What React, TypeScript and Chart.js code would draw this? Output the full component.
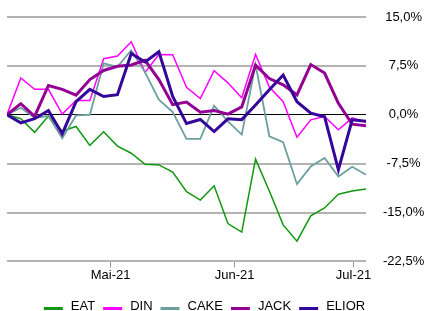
import React, { useEffect, useRef } from 'react';
import { Chart, registerables } from 'chart.js';

Chart.register(...registerables);

// observation number (roughly twice a week, early April to early July 2021)
const obsIndex = [0, 1, 2, 3, 4, 5, 6, 7, 8, 9, 10, 11, 12, 13, 14, 15, 16, 17, 18, 19, 20, 21, 22, 23, 24, 25, 26];

const seriesNames = ['EAT', 'DIN', 'CAKE', 'JACK', 'ELIOR'];
const seriesColors = ['#109810', '#ff00ff', '#6e9fa0', '#930093', '#35069a'];
const seriesWidths = [1.5, 1.5, 1.8, 3, 3];

// performance in %
const eat = [0, -0.6, -2.7, -0.2, -2.5, -1.8, -4.7, -2.6, -4.8, -5.9, -7.6, -7.7, -8.8, -11.8, -13.1, -10.9, -16.7, -18.0, -6.8, -11.7, -16.9, -19.4, -15.5, -14.3, -12.2, -11.7, -11.4];
const din = [0, 5.65, 3.9, 3.9, 0.1, 2.2, 2.2, 8.6, 9.0, 11.2, 6.5, 9.25, 9.2, 4.2, 2.5, 6.75, 4.9, 2.6, 9.25, 4.26, 2.0, -3.45, -0.78, -0.26, -2.3, -0.47, -1.14];
const cake = [0, 1.08, -0.46, -0.2, -3.6, -0.1, 0, 7.9, 7.35, 9.9, 6.5, 2.3, 0.4, -3.7, -3.7, 1.4, -1.0, -3.04, 7.7, -3.3, -4.2, -10.65, -7.93, -6.64, -9.47, -7.98, -9.2];
const jack = [0, 1.7, -0.26, 4.5, 3.9, 3.0, 5.4, 6.8, 7.45, 7.65, 8.35, 5.4, 1.55, 1.95, 0.4, 0.66, 0.1, 1.2, 7.6, 5.55, 4.6, 3.05, 7.7, 6.4, 1.75, -1.45, -1.7];
const elior = [0, -1.24, -0.6, 0.66, -2.93, 2.0, 3.9, 2.8, 3.09, 9.4, 8.1, 9.66, 2.8, -1.35, -0.72, -2.58, -0.62, -0.75, 1.5, 3.85, 6.1, 2.0, 0.25, -0.3, -8.44, -0.77, -1.0];

const seriesValues = [eat, din, cake, jack, elior];

const xTickValues = [7.5, 16.48, 25.1];
const xTickLabels = ['Mai-21', 'Jun-21', 'Jul-21'];

const yMin = -22.5;
const yMax = 15;
const yStep = 7.5;

const FONT_FAMILY = '"Liberation Sans", Arial, sans-serif';

const bottomLegend = {
  id: 'bottomLegend',
  afterDraw(chart: any) {
    const { ctx } = chart;
    ctx.save();
    ctx.font = `13px ${FONT_FAMILY}`;
    const boxW = 19;
    const boxH = 3;
    const gapText = 8;
    const gapItem = 8;
    const items = chart.data.datasets.map((ds: any) => ({
      text: ds.label,
      color: ds.borderColor,
      w: ctx.measureText(ds.label).width,
    }));
    const total =
      items.reduce((s: number, it: any) => s + boxW + gapText + it.w, 0) + gapItem * (items.length - 1);
    let x = chart.width / 2 - 8 - total / 2;
    const baseline = chart.height - 1;
    ctx.textBaseline = 'alphabetic';
    ctx.textAlign = 'left';
    for (const it of items) {
      ctx.fillStyle = it.color;
      ctx.fillRect(x, baseline - boxH, boxW, boxH);
      x += boxW + gapText;
      ctx.fillStyle = '#000';
      ctx.fillText(it.text, x, baseline);
      x += it.w + gapItem;
    }
    ctx.restore();
  },
};

export default function App() {
  const ref = useRef<HTMLCanvasElement>(null);

  useEffect(() => {
    document.body.style.margin = '0';
    if (!ref.current) return;
    Chart.defaults.font.family = FONT_FAMILY;
    Chart.defaults.font.size = 13;
    Chart.defaults.color = '#000';

    const chart = new Chart(ref.current, {
      type: 'line',
      data: {
        labels: obsIndex,
        datasets: seriesNames.map((name, i) => ({
          label: name,
          data: seriesValues[i],
          borderColor: seriesColors[i],
          backgroundColor: seriesColors[i],
          borderWidth: seriesWidths[i],
          pointRadius: 0,
          tension: 0,
          fill: false,
          order: seriesNames.length - i,
          borderJoinStyle: 'miter' as const,
        })),
      },
      options: {
        responsive: false,
        maintainAspectRatio: false,
        animation: false,
        events: [],
        layout: { padding: { left: 7, top: 17, right: 0, bottom: 28 } },
        plugins: {
          legend: { display: false },
          tooltip: { enabled: false },
        },
        scales: {
          x: {
            type: 'linear',
            min: obsIndex[0],
            max: obsIndex[obsIndex.length - 1],
            afterBuildTicks: (scale: any) => {
              scale.ticks = xTickValues.map((v) => ({ value: v }));
            },
            ticks: {
              autoSkip: false,
              maxRotation: 0,
              padding: 0,
              color: '#000',
              font: { size: 13 },
              callback: (_v: any, index: number) => xTickLabels[index],
            },
            grid: {
              drawOnChartArea: false,
              drawTicks: true,
              tickLength: 6,
              color: '#999',
              lineWidth: 1,
            },
            border: { display: false },
          },
          y: {
            position: 'right',
            min: yMin,
            max: yMax,
            afterFit: (scale: any) => {
              scale.width = 59;
              scale.paddingTop = 0;
              scale.paddingBottom = 0;
            },
            ticks: {
              stepSize: yStep,
              crossAlign: 'center',
              padding: 17,
              color: '#000',
              font: { size: 13 },
              callback: (v: any) => Number(v).toFixed(1).replace('.', ',') + '%',
            },
            grid: {
              drawTicks: false,
              color: (c: any) => (c.tick && c.tick.value === 0 ? '#000' : '#b3b3b3'),
              lineWidth: (c: any) => (c.tick && c.tick.value === 0 ? 1 : 2),
            },
            border: { display: false },
          },
        },
      },
      plugins: [bottomLegend],
    } as any);

    return () => chart.destroy();
  }, []);

  return (
    <div style={{ width: 425, height: 311 }}>
      <canvas ref={ref} width={425} height={311} style={{ display: 'block' }} />
    </div>
  );
}
